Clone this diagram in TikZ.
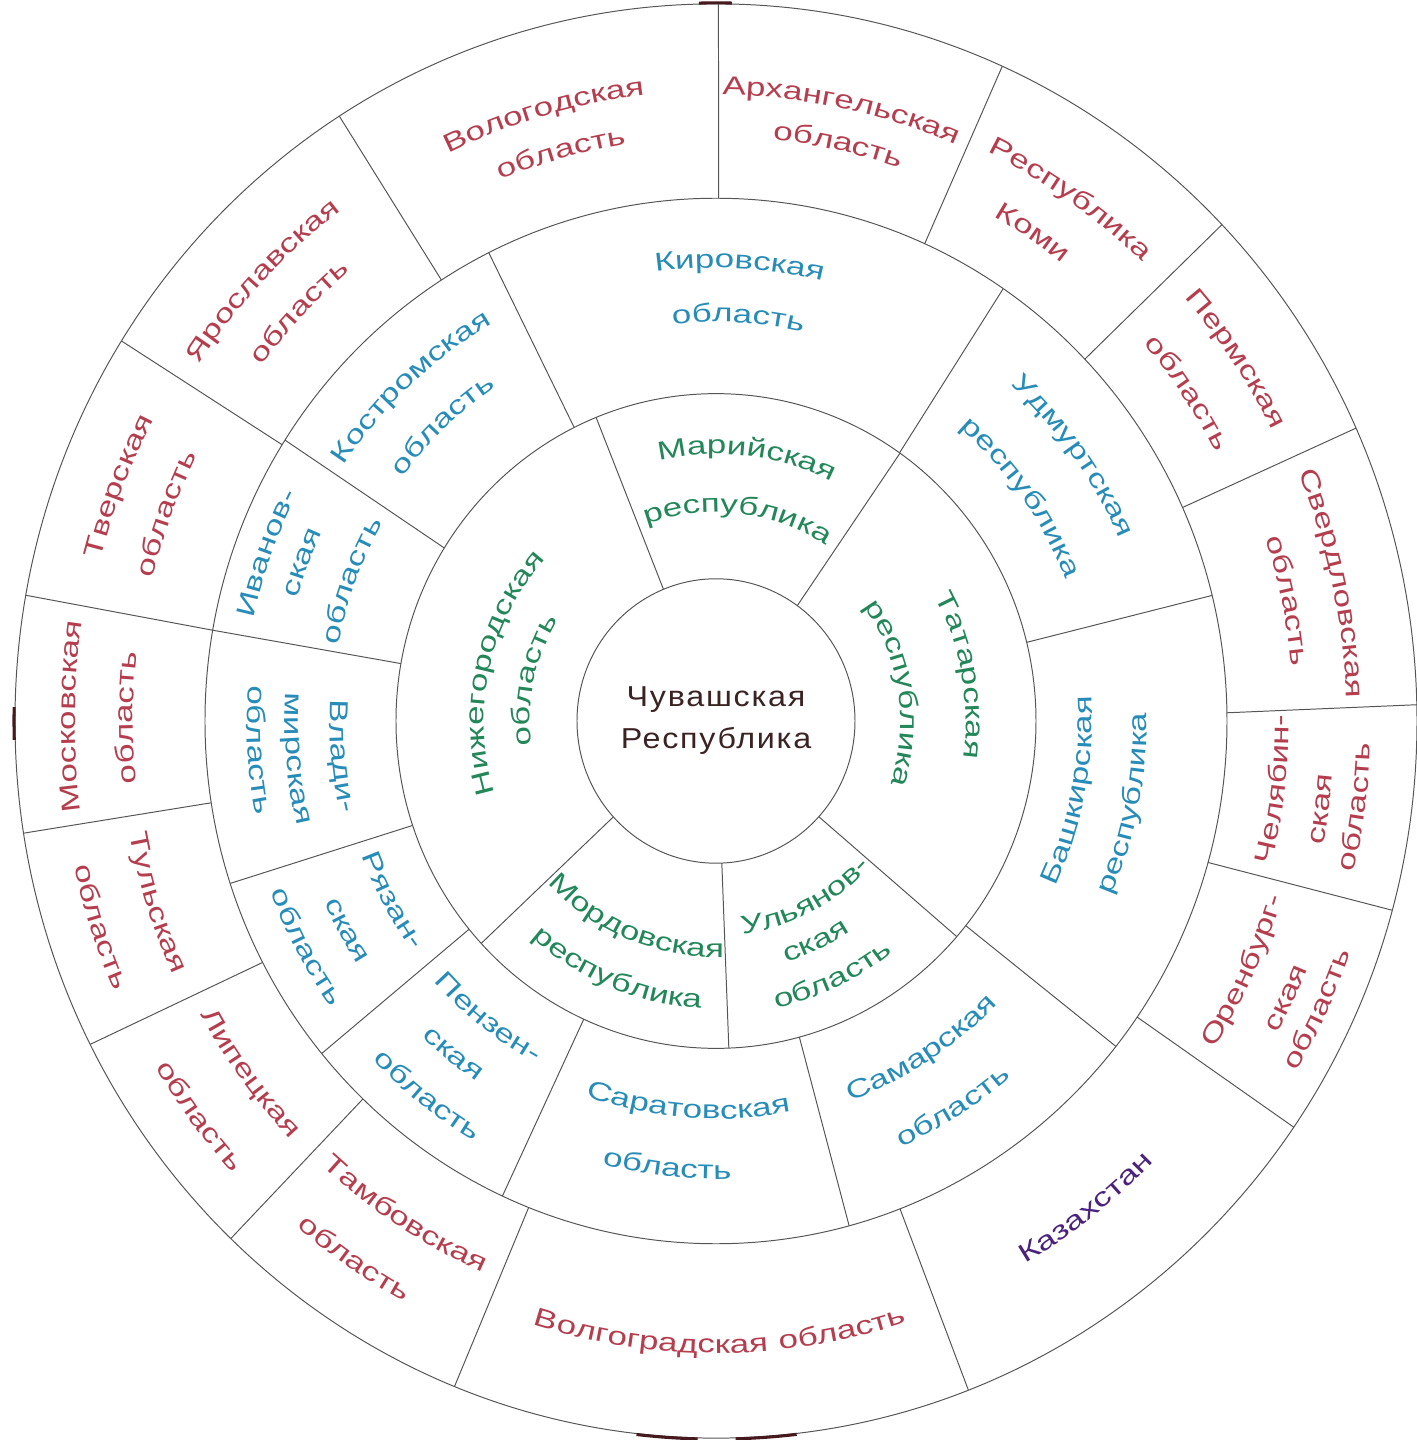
\documentclass[tikz,border=0pt]{standalone}
\usepackage{fontspec}
\setmainfont{Liberation Sans}
\newfontfamily\ringfam{Liberation Sans}[FakeStretch=1.35,LetterSpace=6]
\newfontfamily\hubfam{Liberation Sans}[FakeStretch=1.12,LetterSpace=6]
\usetikzlibrary{decorations.text}

\definecolor{linegray}{RGB}{85,85,85}
\definecolor{outred}{RGB}{180,62,78}
\definecolor{midblue}{RGB}{40,140,185}
\definecolor{ingreen}{RGB}{35,135,90}
\definecolor{kazpurple}{RGB}{75,35,125}
\definecolor{hubbrown}{RGB}{60,35,35}
\definecolor{rimdark}{RGB}{70,25,30}

\newcommand{\ringfont}{\ringfam\fontsize{18.4pt}{21pt}\selectfont}
% text on an arc, letters upright away from the hub
\newcommand{\toptext}[4]{%
  \path[decorate,decoration={text along path,text align=center,
    text={|\ringfont\color{#1}|#4}}]
    (#2+50:#3) arc[start angle=#2+50,end angle=#2-50,radius=#3];}
% text on an arc, letters upright towards the hub
\newcommand{\bottext}[4]{%
  \path[decorate,decoration={text along path,text align=center,
    text={|\ringfont\color{#1}|#4}}]
    (#2-50:#3) arc[start angle=#2-50,end angle=#2+50,radius=#3];}

\begin{document}
\begin{tikzpicture}[x=0.025cm,y=0.025cm,
    wall/.style={draw=linegray, line width=0.7pt},
    rimmark/.style={draw=rimdark, line width=2.2pt},
    hub/.style={align=center, text=hubbrown, font=\hubfam\fontsize{20.5pt}{29.8pt}\selectfont}]

\useasboundingbox (-716,-719) rectangle (700,721);
\begin{scope}[yscale=1.023]

\draw[wall] (0,0) circle[radius=139];
\draw[wall] (0,0) circle[radius=320];
\draw[wall] (0,0) circle[radius=511];
\draw[wall] (0,0) circle[radius=701];

\draw[rimmark] (91.4:702) arc[start angle=91.4, end angle=88.7, radius=702];
\draw[rimmark] (263.5:702) arc[start angle=263.5, end angle=268.5, radius=702];
\draw[rimmark] (271.6:702) arc[start angle=271.6, end angle=276.6, radius=702];
\draw[rimmark] (178.9:702) arc[start angle=178.9, end angle=181.5, radius=702];

% inner ring
\draw[wall] (112.2:139) -- (112.0:320);
\draw[wall] (54.2:139) -- (54.9:320);
\draw[wall] (-42.3:139) -- (-41.2:320);
\draw[wall] (-87.6:139) -- (-87.7:320);
\draw[wall] (222.4:139) -- (222.8:320);

% middle ring
\draw[wall] (116.3:320) -- (116.4:511);
\draw[wall] (55.0:320) -- (55.8:511);
\draw[wall] (13.9:320) -- (13.9:511);
\draw[wall] (-38.7:320) -- (-38.5:511);
\draw[wall] (-74.9:320) -- (-74.9:511);
\draw[wall] (245.6:320) -- (245.3:511);
\draw[wall] (219.5:320) -- (219.5:511);
\draw[wall] (198.6:320) -- (198.1:511);
\draw[wall] (169.9:320) -- (170.0:511);
\draw[wall] (148.1:320) -- (147.5:511);

% outer ring
\draw[wall] (89.7:511) -- (89.8:701);
\draw[wall] (65.9:511) -- (65.9:701);
\draw[wall] (43.8:511) -- (43.8:701);
\draw[wall] (24.1:511) -- (24.1:701);
\draw[wall] (0.9:511) -- (1.3:701);
\draw[wall] (-15.7:511) -- (-15.3:701);
\draw[wall] (-34.5:511) -- (-34.5:701);
\draw[wall] (-68.9:511) -- (-68.9:701);
\draw[wall] (248.5:511) -- (248.1:701);
\draw[wall] (226.3:511) -- (226.2:701);
\draw[wall] (207.5:511) -- (206.8:701);
\draw[wall] (189.0:511) -- (189.0:701);
\draw[wall] (170.0:511) -- (169.9:701);
\draw[wall] (148.1:511) -- (148.0:701);
\draw[wall] (122.5:511) -- (122.5:701);

\node[hub] (chuv) at (0,0) {Чувашская\\Республика};

\toptext{ingreen}{83.2}{261}{Марийская}
\toptext{ingreen}{83.8}{204}{республика}
\toptext{ingreen}{10.5}{250}{Татарская}
\toptext{ingreen}{9.0}{185}{республика}
\toptext{ingreen}{167.3}{232}{Нижегородская}
\toptext{ingreen}{167.5}{186}{область}
\bottext{ingreen}{-62.9}{210}{Ульянов-}
\bottext{ingreen}{-65.4}{246}{ская}
\bottext{ingreen}{-65.2}{287}{область}
\bottext{ingreen}{247.8}{231}{Мордовская}
\bottext{ingreen}{248.2}{281}{республика}

\toptext{midblue}{87.0}{443}{Кировская}
\toptext{midblue}{86.8}{390}{область}
\toptext{midblue}{36.3}{441}{Удмуртская}
\toptext{midblue}{36.0}{376}{республика}
\bottext{midblue}{-11.0}{376}{Башкирская}
\bottext{midblue}{-11.3}{431}{республика}
\bottext{midblue}{-57.6}{395}{Самарская}
\bottext{midblue}{-58.2}{456}{область}
\bottext{midblue}{-94.2}{389}{Саратовская}
\bottext{midblue}{-96.3}{448}{область}
\bottext{midblue}{232.2}{380}{Пензен-}
\bottext{midblue}{231.4}{426}{ская}
\bottext{midblue}{232.1}{477}{область}
\bottext{midblue}{208.8}{378}{Рязан-}
\bottext{midblue}{209.3}{430}{ская}
\bottext{midblue}{208.6}{476}{область}
\bottext{midblue}{185.3}{386}{Влади-}
\bottext{midblue}{185.1}{431}{мирская}
\bottext{midblue}{183.6}{469}{область}
\toptext{midblue}{159.7}{473}{Иванов-}
\toptext{midblue}{159.2}{435}{ская}
\toptext{midblue}{159.1}{385}{область}
\toptext{midblue}{132.7}{448}{Костромская}
\toptext{midblue}{133.0}{394}{область}

\toptext{outred}{106.0}{616}{Вологодская}
\toptext{outred}{105.4}{571}{область}
\toptext{outred}{78.3}{612}{Архангельская}
\toptext{outred}{77.9}{571}{область}
\toptext{outred}{55.6}{619}{Республика}
\toptext{outred}{56.8}{566}{Коми}
\toptext{outred}{34.6}{625}{Пермская}
\toptext{outred}{34.6}{565}{область}
\toptext{outred}{12.5}{631}{Свердловская}
\toptext{outred}{11.8}{578}{область}
\bottext{outred}{-6.9}{573}{Челябин-}
\bottext{outred}{-8.2}{619}{ская}
\bottext{outred}{-7.6}{655}{область}
\bottext{outred}{-25.1}{592}{Оренбург-}
\bottext{outred}{-25.7}{639}{ская}
\bottext{outred}{-25.4}{674}{область}
\bottext{kazpurple}{-52.5}{614}{Казахстан}
\bottext{outred}{270.4}{618}{Волгоградская область}
\bottext{outred}{237.5}{587}{Тамбовская}
\bottext{outred}{235.8}{648}{область}
\bottext{outred}{216.8}{590}{Липецкая}
\bottext{outred}{217.1}{655}{область}
\bottext{outred}{197.8}{597}{Тульская}
\bottext{outred}{198.3}{657}{область}
\toptext{outred}{179.6}{641}{Московская}
\toptext{outred}{179.7}{583}{область}
\toptext{outred}{158.7}{635}{Тверская}
\toptext{outred}{159.5}{580}{область}
\toptext{outred}{136.1}{624}{Ярославская}
\toptext{outred}{135.8}{572}{область}

\end{scope}
\end{tikzpicture}
\end{document}
